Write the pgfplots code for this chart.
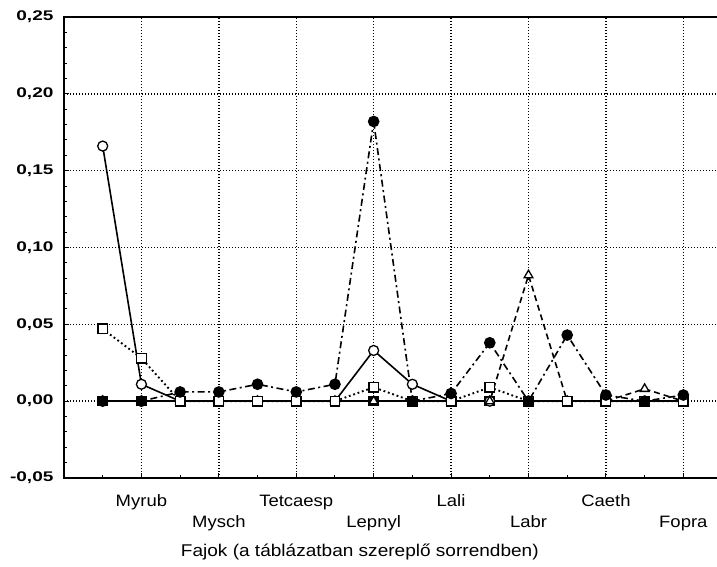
\documentclass[border=0pt]{standalone}
\usepackage{fontspec}
\setmainfont{Liberation Sans}[FakeStretch=1.12]
\newfontfamily\tickfont{Liberation Sans}[FakeStretch=1.36]
\usepackage{pgfplots}
\pgfplotsset{compat=1.18}
\begin{document}
\begin{tikzpicture}[x=1pt,y=1pt]
\useasboundingbox (0,0) rectangle (717,567);
\begin{axis}[
  at={(64pt,89pt)}, anchor=south west, scale only axis,
  width=653pt, height=461pt,
  xmin=0, xmax=16.87, ymin=-0.05, ymax=0.25,
  axis line style={draw=none},
  clip=false,
  xtick={2,6,10,14}, xticklabels={Myrub,Tetcaesp,Lali,Caeth},
  extra x ticks={4,8,12,16}, extra x tick labels={Mysch,Lepnyl,Labr,Fopra},
  extra x tick style={xticklabel style={yshift=-21pt}},
  minor xtick={1,3,...,15},
  ytick={-0.05,0,0.05,0.10,0.15,0.20,0.25},
  minor y tick num=4,
  xtick pos=bottom, ytick pos=left,
  tick align=inside,
  major tick length=5pt, minor tick length=3pt,
  every tick/.style={black, line width=1pt},
  grid=major,
  major grid style={black, line width=1.4pt, dash pattern=on 1.4pt off 1.6pt},
  xticklabel style={font=\fontsize{16.5}{19}\selectfont, anchor=base, yshift=-29pt},
  yticklabel style={font=\tickfont\bfseries\fontsize{14}{16}\selectfont, xshift=-7pt},
  /pgf/number format/.cd, fixed, fixed zerofill, precision=2, use comma, assume math mode=true,
]
% filled square
\addplot[black, line width=1.6pt, mark=square*, mark size=4.5pt, mark options={solid, fill=black}]
  coordinates {(1,0)(2,0)(3,0)(4,0)(5,0)(6,0)(7,0)(8,0)(9,0)(10,0)(11,0)(12,0)(13,0)(14,0)(15,0)(16,0)};
% open circle, solid
\addplot[black, line width=1.6pt, mark=*, mark size=5pt, mark options={solid, fill=white, line width=1.3pt}]
  coordinates {(1,0.166)(2,0.011)(3,0)(4,0)(5,0)(6,0)(7,0)(8,0.033)(9,0.011)(10,0)(11,0)(12,0)(13,0)(14,0)(15,0)(16,0)};
% open triangle, dashed
\addplot[black, line width=1.6pt, dash pattern=on 6pt off 4pt, mark=triangle*, mark size=5pt, mark options={solid, fill=white, line width=1.3pt}]
  coordinates {(1,0)(2,0)(3,0)(4,0)(5,0)(6,0)(7,0)(8,0)(9,0)(10,0)(11,0)(12,0.082)(13,0)(14,0)(15,0.008)(16,0)};
% open square, dotted
\addplot[black, line width=1.9pt, dash pattern=on 1.8pt off 2.8pt, mark=square*, mark size=4.8pt, mark options={solid, fill=white, line width=1.3pt}]
  coordinates {(1,0.047)(2,0.028)(3,0)(4,0)(5,0)(6,0)(7,0)(8,0.009)(9,0)(10,0)(11,0.009)(12,0)(13,0)(14,0)(15,0)(16,0)};
% filled circle, dash-dot
\addplot[black, line width=1.6pt, dash pattern=on 7pt off 3.5pt on 2pt off 3.5pt, mark=*, mark size=5pt, mark options={solid, fill=black}]
  coordinates {(1,0)(2,0)(3,0.006)(4,0.006)(5,0.011)(6,0.006)(7,0.011)(8,0.182)(9,0)(10,0.005)(11,0.038)(12,0)(13,0.043)(14,0.004)(15,0)(16,0.004)};
\draw[black, line width=1.6pt] (rel axis cs:1,1) -- (rel axis cs:0,1) -- (rel axis cs:0,0) -- (rel axis cs:1,0);
\node[anchor=base, font=\fontsize{17}{20}\selectfont] at ([yshift=-79pt]axis description cs:0.453,0) {Fajok (a táblázatban szereplő sorrendben)};
\end{axis}
\end{tikzpicture}
\end{document}
